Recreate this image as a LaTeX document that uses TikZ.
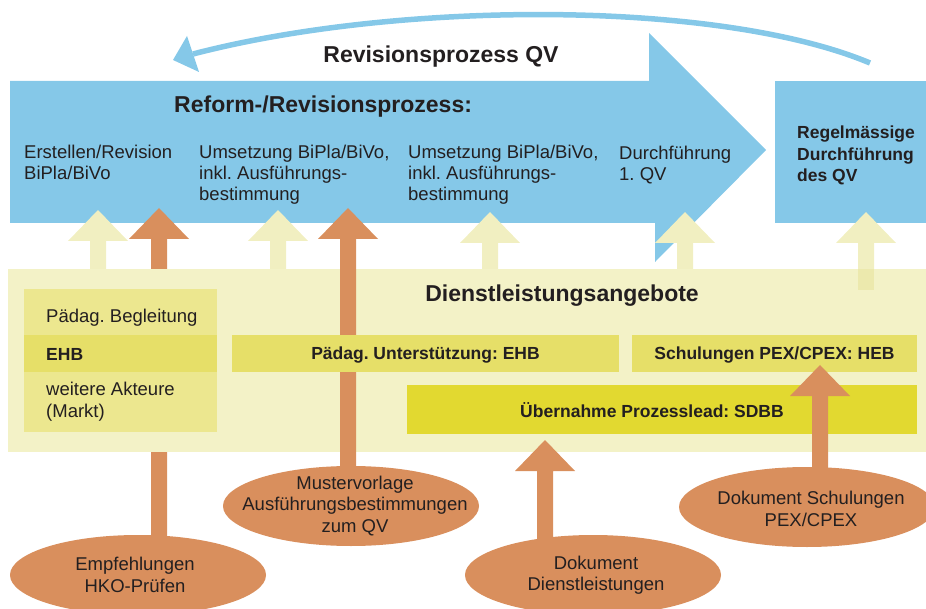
\documentclass[tikz,border=0pt]{standalone}
\usepackage{fontspec}
\setmainfont{Liberation Sans}
\usetikzlibrary{shapes.geometric}
\frenchspacing
\definecolor{blueA}{HTML}{85C8E8}
\definecolor{bandY}{HTML}{F3F2C7}
\definecolor{arrY}{HTML}{F1EFC1}
\definecolor{arrYd}{HTML}{ECE9AD}
\definecolor{boxL}{HTML}{ECE78F}
\definecolor{boxM}{HTML}{E6DF68}
\definecolor{boxS}{HTML}{E2D930}
\definecolor{orA}{HTML}{D98F5D}
\definecolor{txt}{HTML}{231F20}
\newcommand{\blockup}[4]{\fill[#1] (#2,#3) -- (#2+30,#3+31) -- (#2+8,#3+31) -- (#2+8,#4) -- (#2-8,#4) -- (#2-8,#3+31) -- (#2-30,#3+31) -- cycle;}
\tikzset{
  body/.style={font=\fontsize{18.5}{21}\selectfont, align=left, anchor=north west},
  headtxt/.style={font=\fontsize{23}{26}\selectfont\bfseries},
  labtxt/.style={font=\fontsize{17.5}{21.5}\selectfont\bfseries},
  ell/.style={ellipse, fill=orA, minimum width=256pt, minimum height=80pt},
  elltxt/.style={align=center, font=\fontsize{18.5}{21.5}\selectfont},
}
\begin{document}
\begin{tikzpicture}[x=1pt,y=-1pt, every node/.style={text=txt, inner sep=0pt}]
\useasboundingbox (0,0) rectangle (926,609);
\clip (0,0) rectangle (926,609);
% big blue arrow and right box
\fill[blueA] (10,81) -- (649,81) -- (649,33) -- (766,150) -- (655,262) -- (655,223) -- (10,223) -- cycle;
\fill[blueA] (775,81) rectangle (930,223);
% curved return arrow
\draw[blueA, line width=5.5pt] (870,63) .. controls (720,0) and (400,0) .. (193,54);
\fill[blueA] (173,60) -- (187,36) -- (199,72) -- cycle;
% texts on blue
\node[headtxt, anchor=base] (rev) at (441,63) {Revisionsprozess QV};
\node[headtxt, anchor=base west] (ref) at (174,113) {Reform-/Revisionsprozess:};
\node[body] (c1) at (24,144.8) {Erstellen/Revision\\BiPla/BiVo};
\node[body] (c2) at (199,144.8) {Umsetzung BiPla/BiVo,\\inkl. Ausführungs-\\bestimmung};
\node[body] (c3) at (408,144.8) {Umsetzung BiPla/BiVo,\\inkl. Ausführungs-\\bestimmung};
\node[body] (c4) at (619,145.5) {Durchführung\\1. QV};
\node[labtxt, align=left, anchor=north west] (c5) at (797,126) {Regelmässige\\Durchführung\\des QV};
% arrows behind band
\blockup{arrY}{98}{210}{275}
\blockup{orA}{159}{208}{540}
\blockup{arrY}{278}{210}{275}
\blockup{arrY}{490}{212}{275}
\blockup{arrY}{685}{212}{275}
\blockup{arrY}{866}{212}{275}
% band
\fill[bandY] (8,269) rectangle (930,452);
\fill[arrYd] (858,269) rectangle (874,290);
\node[headtxt, anchor=base] (dl) at (562,302) {Dienstleistungsangebote};
% left box
\fill[boxL] (24,289) rectangle (217,432);
\fill[boxM] (24,335) rectangle (217,372);
\node[font=\fontsize{18.5}{21}\selectfont, anchor=base west] (pb) at (46,323) {Pädag. Begleitung};
\node[labtxt, anchor=base west] (ehb) at (46,360) {EHB};
\node[font=\fontsize{18.5}{22}\selectfont, align=left, anchor=north west] (wa) at (46,381.8) {weitere Akteure\\(Markt)};
% Mustervorlage arrow over band
\blockup{orA}{348}{208}{470}
% boxes
\node[fill=boxM, minimum width=387pt, minimum height=37pt, labtxt, text height=12.6pt, text depth=0pt] (pu) at (425.5,353.5) {Pädag. Unterstützung: EHB};
\node[fill=boxM, minimum width=285pt, minimum height=37pt, labtxt, text height=12.6pt, text depth=0pt] (sch) at (774.5,353.5) {Schulungen PEX/CPEX: HEB};
\fill[boxS] (407,385) rectangle (917,434);
\node[labtxt, anchor=base] (ub) at (652,417) {Übernahme Prozesslead: SDBB};
% bottom arrows
\blockup{orA}{545}{440}{545}
\blockup{orA}{820}{365}{470}
% ellipses
\node[ell] (e1) at (138,575) {};
\node[ell] (e2) at (351,506) {};
\node[ell] (e3) at (593,575) {};
\node[ell] (e4) at (807,507) {};
\node[elltxt] (t1) at ([xshift=-3pt]e1.center) {Empfehlungen\\HKO-Prüfen};
\node[elltxt] (t2) at ([xshift=4pt]e2.center) {Mustervorlage\\Ausführungsbestimmungen\\zum QV};
\node[elltxt] (t3) at ([xshift=3pt]e3.center) {Dokument\\Dienstleistungen};
\node[elltxt] (t4) at ([xshift=4pt,yshift=-2pt]e4.center) {Dokument Schulungen\\PEX/CPEX};
\end{tikzpicture}
\end{document}
